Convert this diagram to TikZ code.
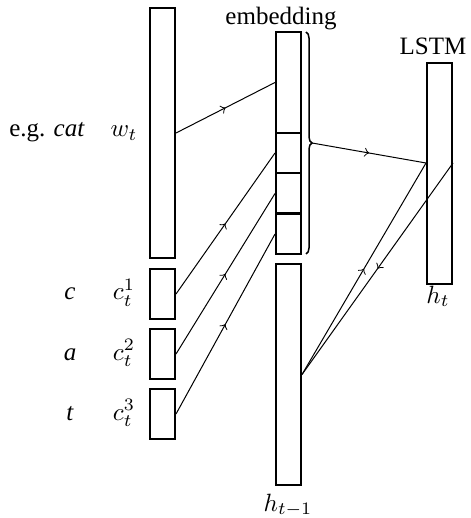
\documentclass[tikz,border=0pt]{standalone}
\usepackage[no-math]{fontspec}
\setmainfont{Liberation Serif}
\usetikzlibrary{decorations.markings,decorations.pathreplacing}
\tikzset{
  cell/.style={draw, thick, inner sep=0pt, minimum width=10pt},
  midarrow/.style={postaction={decorate}, decoration={markings, mark=at position 0.5 with {\arrow{>}}}},
  conn/.style={thin, midarrow},
  lab/.style={inner sep=0pt, anchor=base},
}
\begin{document}
\begin{tikzpicture}[x=0.4pt, y=-0.4pt]
\useasboundingbox (0,0) rectangle (471,518);
% input boxes
\node[cell, minimum height=100pt] (w) at (162.5,133) {};
\node[cell, minimum height=20pt] (c1) at (162.5,294) {};
\node[cell, minimum height=20pt] (c2) at (162.5,354) {};
\node[cell, minimum height=20pt] (c3) at (162.5,414) {};
% embedding column
\node[cell, minimum height=40.4pt] (e1) at (288.5,82.5) {};
\node[cell, minimum height=16pt] (e2) at (288.5,153) {};
\node[cell, minimum height=16pt] (e3) at (288.5,193.5) {};
\node[cell, minimum height=16pt] (e4) at (288.5,234) {};
% previous hidden state
\node[cell, minimum height=88.4pt] (hp) at (288.5,374.5) {};
% LSTM
\node[cell, minimum height=88.4pt] (L) at (439.5,173.5) {};
% brace
\draw[semithick, decorate, decoration={brace, amplitude=2.4pt}] (306,32) -- (306,254);
\coordinate (bt) at (312,143);
\coordinate (Lw) at ([yshift=4.2pt]L.west);
\coordinate (Le) at ([yshift=4.2pt]L.east);
% labels
\node[lab] (emb) at (281,25) {embedding};
\node[lab] (lstm) at (433,55) {LSTM};
\node[lab] (eg) at (47,137) {e.g. \textit{cat}};
\node[lab] (wt) at (124,137) {$w_t$};
\node[lab] (lc) at (70,300) {\textit{c}};
\node[lab] (lct1) at (124,300) {$c_t^1$};
\node[lab] (la) at (70,360) {\textit{a}};
\node[lab] (lct2) at (124,360) {$c_t^2$};
\node[lab] (lt) at (70,420) {\textit{t}};
\node[lab] (lct3) at (124,420) {$c_t^3$};
\node[lab] (ht) at (438,303) {$h_t$};
\node[lab] (htm) at (288,511) {$h_{t-1}$};
% connectors
\draw[conn] (w.east) -- (e1.west);
\draw[conn] (c1.east) -- (e2.west);
\draw[conn] (c2.east) -- (e3.west);
\draw[conn] (c3.east) -- (e4.west);
\draw[conn] (bt) -- (Lw);
\draw[conn] (hp.east) -- (Lw);
\draw[conn] (Le) -- (hp.east);
\end{tikzpicture}
\end{document}
